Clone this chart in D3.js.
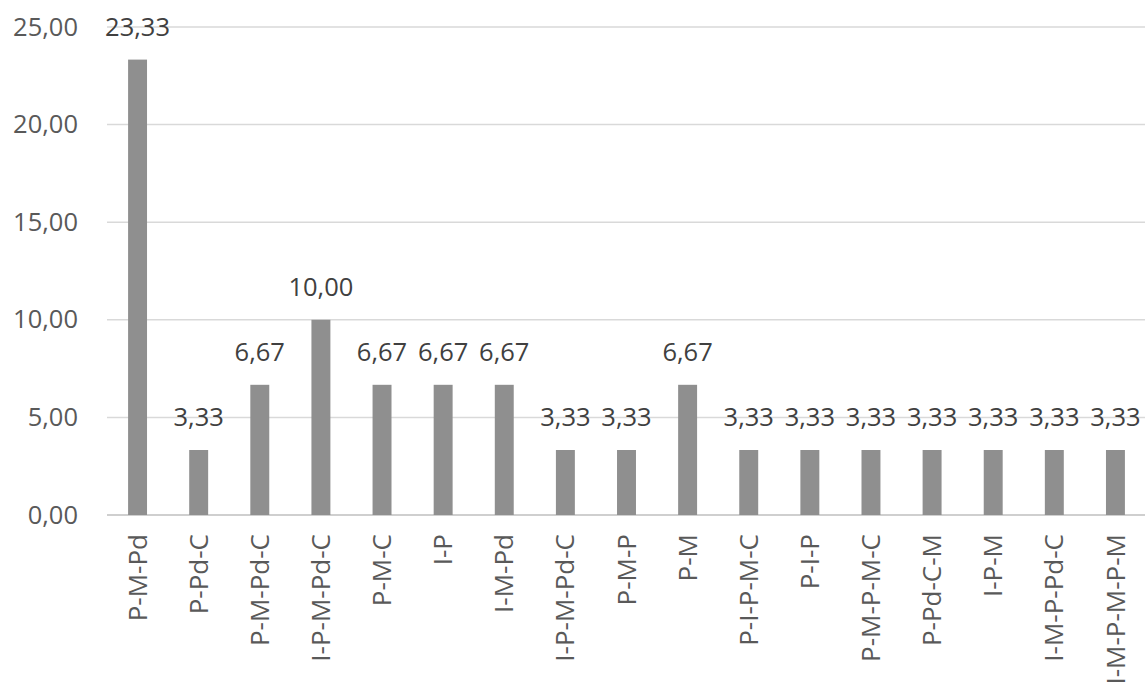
<!DOCTYPE html>
<meta charset="utf-8">
<script src="https://d3js.org/d3.v7.min.js"></script>
<style>
  body { margin: 0; background: #fff; }
  .tick text { font-family: "Open Sans", sans-serif; fill: #595959; }
  .lbl { font-family: "Open Sans", sans-serif; font-size: 25.5px; fill: #404040; }
</style>
<div id="chart"></div>
<script>
// categories and values
var categories = ["P-M-Pd", "P-Pd-C", "P-M-Pd-C", "I-P-M-Pd-C", "P-M-C", "I-P", "I-M-Pd",
  "I-P-M-Pd-C", "P-M-P", "P-M", "P-I-P-M-C", "P-I-P", "P-M-P-M-C", "P-Pd-C-M",
  "I-P-M", "I-M-P-Pd-C", "I-M-P-M-P-M"];
var values = [23.33, 3.33, 6.67, 10.00, 6.67, 6.67, 6.67, 3.33, 3.33, 6.67,
  3.33, 3.33, 3.33, 3.33, 3.33, 3.33, 3.33];
var yTicks = [0, 5, 10, 15, 20, 25];

var width = 1145, height = 689;
var margin = {top: 27, right: 0, bottom: 175, left: 107};

var svg = d3.select("#chart").append("svg")
  .attr("width", width)
  .attr("height", height);

var x = d3.scaleBand()
  .domain(d3.range(categories.length))
  .range([margin.left, width + 1])
  .paddingInner(0.69)
  .paddingOuter(0.345);

var y = d3.scaleLinear()
  .domain([0, 25])
  .range([height - margin.bottom + 1, margin.top]);

var fmt = function(v) { return d3.format(".2f")(v).replace(".", ","); };

// gridlines
svg.append("g")
  .selectAll("line")
  .data(yTicks)
  .join("line")
    .attr("x1", margin.left)
    .attr("x2", width)
    .attr("y1", function(d) { return y(d); })
    .attr("y2", function(d) { return y(d); })
    .attr("stroke", function(d) { return d === 0 ? "#bfbfbf" : "#d9d9d9"; })
    .attr("stroke-width", 1.5);

// y axis labels
var yAxis = svg.append("g")
  .attr("transform", "translate(" + (margin.left - 29) + ",0)")
  .call(d3.axisLeft(y).tickValues(yTicks).tickFormat(fmt).tickSize(0).tickPadding(0));
yAxis.select(".domain").remove();
yAxis.selectAll("text").style("font-size", "25.5px");

// bars
svg.append("g")
  .selectAll("rect")
  .data(values)
  .join("rect")
    .attr("x", function(d, i) { return x(i); })
    .attr("y", function(d) { return y(d); })
    .attr("width", x.bandwidth())
    .attr("height", function(d) { return y(0) - y(d); })
    .attr("fill", "#8f8f8f");

// data labels
svg.append("g")
  .selectAll("text")
  .data(values)
  .join("text")
    .attr("class", "lbl")
    .attr("x", function(d, i) { return x(i) + x.bandwidth() / 2; })
    .attr("y", function(d) { return y(d) - 24; })
    .attr("text-anchor", "middle")
    .text(fmt);

// x axis labels
var xAxis = svg.append("g")
  .attr("transform", "translate(0," + y(0) + ")")
  .call(d3.axisBottom(x).tickFormat(function(i) { return categories[i]; }).tickSize(0));
xAxis.select(".domain").remove();
xAxis.selectAll("text")
  .style("font-size", "26px")
  .attr("transform", "rotate(-90)")
  .attr("text-anchor", "end")
  .attr("dy", "0.35em")
  .attr("x", -19)
  .attr("y", 0);
</script>
